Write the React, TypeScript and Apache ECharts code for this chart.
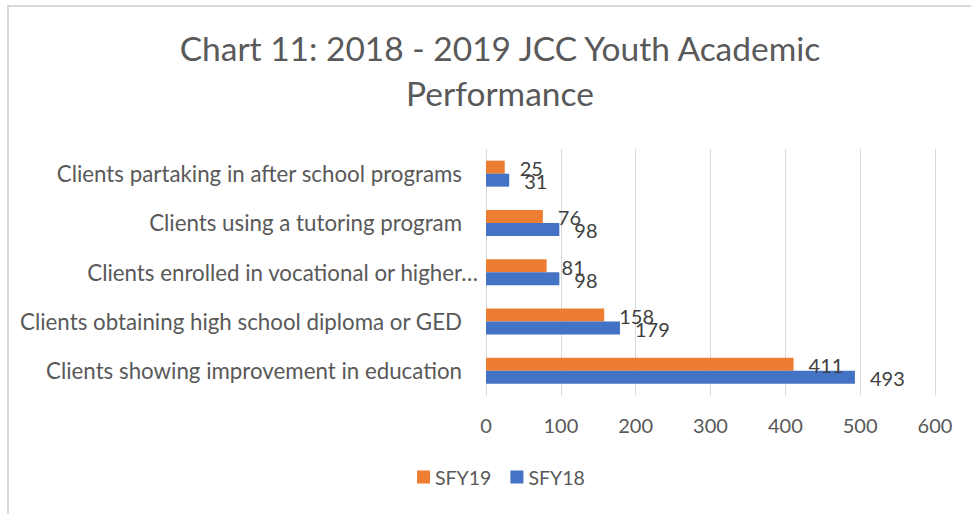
import React, { useEffect, useRef } from "react";
import * as echarts from "echarts";

const categories = [
  "Clients showing improvement in education",
  "Clients obtaining high school diploma or GED",
  "Clients enrolled in vocational or higher…",
  "Clients using a tutoring program",
  "Clients partaking in after school programs",
];
const sfy19 = [411, 158, 81, 76, 25];
const sfy18 = [493, 179, 98, 98, 31];
const xTicks = [0, 100, 200, 300, 400, 500, 600];
const titleText = "Chart 11: 2018 - 2019 JCC Youth Academic\nPerformance";

const FONT = "Lato";

export default function App() {
  const ref = useRef<HTMLDivElement>(null);
  useEffect(() => {
    if (!ref.current) return;
    const chart = echarts.init(ref.current, null, { renderer: "svg" });
    const labelCfg = {
      show: true,
      position: "right",
      distance: 15,
      color: "#404040",
      fontFamily: FONT,
      fontSize: 20,
      offset: [0, 1],
    };
    chart.setOption({
      animation: false,
      backgroundColor: "#ffffff",
      title: {
        text: titleText,
        left: 495,
        top: 20,
        textAlign: "center",
        textStyle: {
          fontFamily: FONT,
          fontSize: 33.5,
          fontWeight: "normal",
          color: "#595959",
          lineHeight: 45,
        },
      },
      legend: {
        data: ["SFY19", "SFY18"],
        bottom: 22,
        left: 412,
        itemWidth: 13,
        itemHeight: 13,
        itemGap: 19,
        icon: "rect",
        textStyle: { fontFamily: FONT, fontSize: 19.5, color: "#595959" },
      },
      grid: { left: 486, right: 36, top: 149, bottom: 118.5, containLabel: false },
      xAxis: {
        type: "value",
        min: xTicks[0],
        max: xTicks[xTicks.length - 1],
        interval: 100,
        axisLine: { show: false },
        axisTick: { show: false },
        splitLine: { show: true, lineStyle: { color: "#d9d9d9", width: 1 } },
        axisLabel: { fontFamily: FONT, fontSize: 20, color: "#595959", margin: 19 },
      },
      yAxis: {
        type: "category",
        data: categories,
        axisLine: { show: false },
        axisTick: { show: false },
        axisLabel: {
          fontFamily: FONT,
          fontSize: 22.3,
          color: "#595959",
          margin: 8,
          formatter: (v: string) => (v.endsWith("…") ? `{t|${v}}` : `{n|${v}}`),
          rich: {
            n: { fontFamily: FONT, fontSize: 22.3, color: "#595959", padding: [0, 16, 0, 0] },
            t: { fontFamily: FONT, fontSize: 22.3, color: "#595959" },
          },
        },
      },
      series: [
        {
          name: "SFY19",
          type: "bar",
          data: sfy19,
          barWidth: 13,
          barGap: "0%",
          itemStyle: { color: "#ED7D31" },
          label: labelCfg,
        },
        {
          name: "SFY18",
          type: "bar",
          data: sfy18,
          barWidth: 13,
          barGap: "0%",
          itemStyle: { color: "#4472C4" },
          label: labelCfg,
        },
      ],
      graphic: [
        {
          type: "rect",
          shape: { x: 8, y: 6, width: 1000, height: 560 },
          style: { fill: "none", stroke: "#d9d9d9", lineWidth: 2 },
          silent: true,
        },
      ],
    });
    return () => chart.dispose();
  }, []);
  return (
    <div
      ref={ref}
      style={{ position: "fixed", left: 0, top: 0, width: 971, height: 514 }}
    />
  );
}
